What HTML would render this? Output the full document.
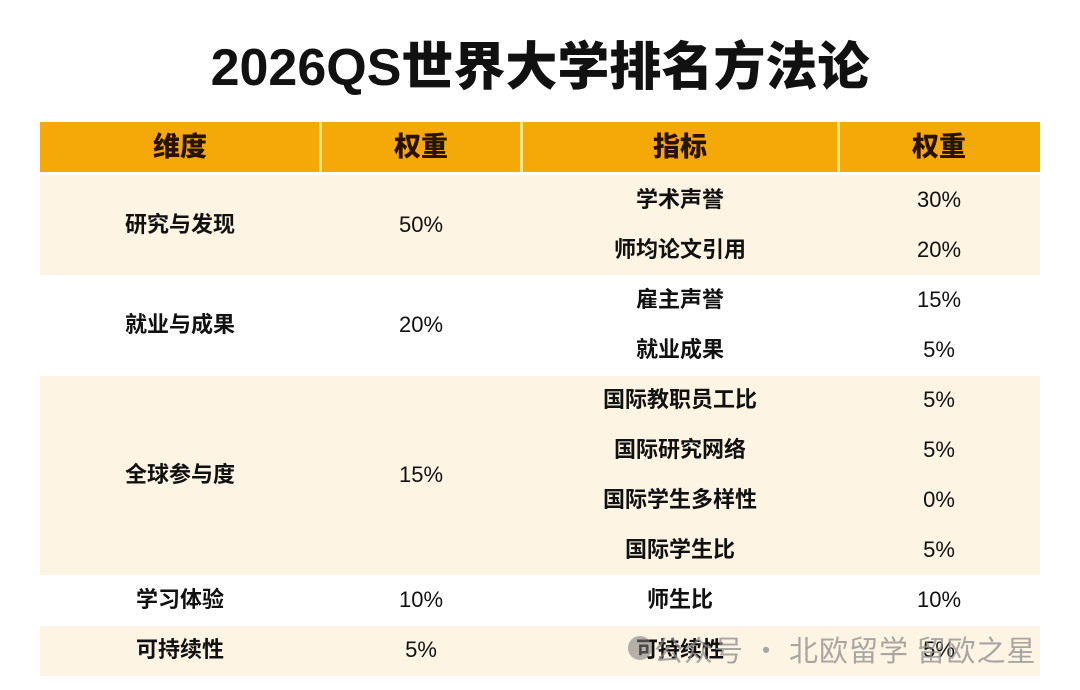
<!DOCTYPE html>
<html><head><meta charset="utf-8"><style>
body{margin:0;width:1080px;height:690px;background:#fff;position:relative;overflow:hidden;font-family:"Liberation Sans","Noto Sans CJK SC",sans-serif;}
.t{position:absolute;left:0;width:1080px;top:36px;text-align:center;font-size:52px;font-weight:900;color:#111;line-height:64px;}
.b{position:absolute;}
.c{position:absolute;text-align:center;font-size:22px;font-weight:700;color:#111;line-height:50px;height:50px;}
.p{font-weight:400;font-size:22px;}
.h{font-size:27px;font-weight:900;color:#2a1200;}
</style></head><body>
<div class="t">2026QS世界大学排名方法论</div>
<div class="b" style="left:40px;top:122px;width:1000px;height:50px;background:#f5a908"></div>
<div class="b" style="left:319px;top:122px;width:3px;height:50px;background:#fde68a"></div>
<div class="b" style="left:520px;top:122px;width:3px;height:50px;background:#fde68a"></div>
<div class="b" style="left:837px;top:122px;width:3px;height:50px;background:#fde68a"></div>
<div class="b" style="left:40px;top:175px;width:1000px;height:100px;background:#fdf4e3"></div>
<div class="b" style="left:40px;top:376px;width:1000px;height:199px;background:#fdf4e3"></div>
<div class="b" style="left:40px;top:626px;width:1000px;height:50px;background:#fdf4e3"></div>

<div class="c h" style="left:40px;width:280px;top:122px">维度</div>
<div class="c h" style="left:320px;width:202px;top:122px">权重</div>
<div class="c h" style="left:522px;width:316px;top:122px">指标</div>
<div class="c h" style="left:838px;width:202px;top:122px">权重</div>

<div class="c" style="left:40px;width:280px;top:200px">研究与发现</div>
<div class="c p" style="left:320px;width:202px;top:200px">50%</div>
<div class="c" style="left:40px;width:280px;top:300px">就业与成果</div>
<div class="c p" style="left:320px;width:202px;top:300px">20%</div>
<div class="c" style="left:40px;width:280px;top:450px">全球参与度</div>
<div class="c p" style="left:320px;width:202px;top:450px">15%</div>
<div class="c" style="left:40px;width:280px;top:575px">学习体验</div>
<div class="c p" style="left:320px;width:202px;top:575px">10%</div>
<div class="c" style="left:40px;width:280px;top:625px">可持续性</div>
<div class="c p" style="left:320px;width:202px;top:625px">5%</div>

<div class="c" style="left:522px;width:316px;top:175px">学术声誉</div>
<div class="c p" style="left:838px;width:202px;top:175px">30%</div>
<div class="c" style="left:522px;width:316px;top:225px">师均论文引用</div>
<div class="c p" style="left:838px;width:202px;top:225px">20%</div>
<div class="c" style="left:522px;width:316px;top:275px">雇主声誉</div>
<div class="c p" style="left:838px;width:202px;top:275px">15%</div>
<div class="c" style="left:522px;width:316px;top:325px">就业成果</div>
<div class="c p" style="left:838px;width:202px;top:325px">5%</div>
<div class="c" style="left:522px;width:316px;top:375px">国际教职员工比</div>
<div class="c p" style="left:838px;width:202px;top:375px">5%</div>
<div class="c" style="left:522px;width:316px;top:425px">国际研究网络</div>
<div class="c p" style="left:838px;width:202px;top:425px">5%</div>
<div class="c" style="left:522px;width:316px;top:475px">国际学生多样性</div>
<div class="c p" style="left:838px;width:202px;top:475px">0%</div>
<div class="c" style="left:522px;width:316px;top:525px">国际学生比</div>
<div class="c p" style="left:838px;width:202px;top:525px">5%</div>
<div class="c" style="left:522px;width:316px;top:575px">师生比</div>
<div class="c p" style="left:838px;width:202px;top:575px">10%</div>
<div class="c" style="left:522px;width:316px;top:625px">可持续性</div>
<div class="c p" style="left:838px;width:202px;top:625px">5%</div>

<div class="b" style="left:628px;top:636px;width:24px;height:24px;border-radius:50%;background:rgba(120,120,120,0.55)"></div>
<div class="b" style="left:654px;top:628px;font-size:29px;line-height:42px;letter-spacing:1px;color:rgba(140,140,140,0.75);font-family:'Noto Sans CJK SC',sans-serif;white-space:nowrap;">公众号 · 北欧留学 留欧之星</div>
</body></html>
